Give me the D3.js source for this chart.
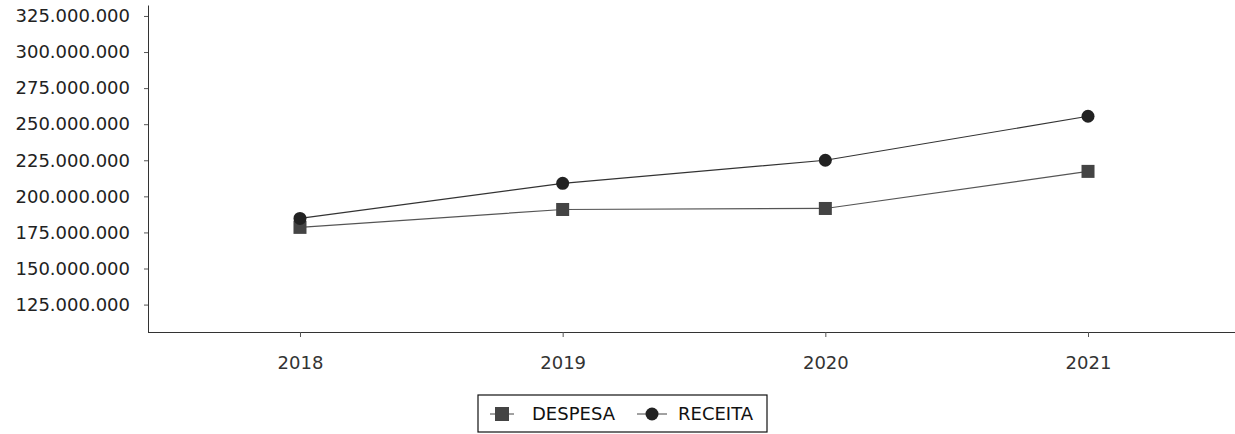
<!DOCTYPE html>
<html>
<head>
<meta charset="utf-8">
<script src="https://cdn.jsdelivr.net/npm/d3@7"></script>
<style>
  body { margin: 0; background: #fff; }
  text { font-family: "DejaVu Sans", sans-serif; }
</style>
</head>
<body>
<div id="chart"></div>
<script>
// chart data
const years = ['2018', '2019', '2020', '2021'];
const despesa = [178500000, 190900000, 191600000, 217300000];
const receita = [184700000, 209000000, 225000000, 255500000];
const yTicks = [125000000, 150000000, 175000000, 200000000, 225000000, 250000000, 275000000, 300000000, 325000000];

const width = 1235;
const height = 434;
const margin = { top: 5, bottom: 102, left: 148 };

const svg = d3
  .select('#chart')
  .append('svg')
  .attr('width', width)
  .attr('height', height);

const x = d3
  .scalePoint()
  .domain(years)
  .range([margin.left, 1240])
  .padding(0.5786);

const y = d3
  .scaleLinear()
  .domain([106000000, 332600000])
  .range([height - margin.bottom, margin.top]);

const fmt = (v) => d3.format(',')(v).replace(/,/g, '.');

// y axis
const yAxis = svg
  .append('g')
  .attr('transform', `translate(${margin.left},0)`)
  .call(d3.axisLeft(y).tickValues(yTicks).tickFormat(fmt).tickSize(4).tickPadding(14).tickSizeOuter(0));
yAxis.selectAll('text').style('font-size', '18px').style('fill', '#222');
yAxis.selectAll('line').style('stroke', '#555');
yAxis.select('.domain').style('stroke', '#333');

// x axis (runs to the right edge)
const xAxis = svg
  .append('g')
  .attr('transform', `translate(0,${height - margin.bottom})`)
  .call(d3.axisBottom(x).tickSize(5).tickPadding(19).tickSizeOuter(0));
xAxis.select('.domain').attr('d', `M${margin.left},0.5H${width}`).style('stroke', '#333');
xAxis.selectAll('text').style('font-size', '18px').style('fill', '#333');
xAxis.selectAll('line').style('stroke', '#555');

const series = [
  { name: 'DESPESA', values: despesa, shape: 'square', color: '#555' },
  { name: 'RECEITA', values: receita, shape: 'circle', color: '#333' },
];

const line = d3
  .line()
  .x((d, i) => x(years[i]))
  .y((d) => y(d));

series.forEach((s) => {
  svg
    .append('path')
    .datum(s.values)
    .attr('fill', 'none')
    .attr('stroke', s.color)
    .attr('stroke-width', 1.2)
    .attr('d', line);

  const g = svg.append('g');
  if (s.shape === 'square') {
    g.selectAll('rect')
      .data(s.values)
      .join('rect')
      .attr('x', (d, i) => x(years[i]) - 6.5)
      .attr('y', (d) => y(d) - 6.5)
      .attr('width', 13)
      .attr('height', 13)
      .attr('fill', '#444');
  } else {
    g.selectAll('circle')
      .data(s.values)
      .join('circle')
      .attr('cx', (d, i) => x(years[i]))
      .attr('cy', (d) => y(d))
      .attr('r', 6.5)
      .attr('fill', '#222');
  }
});

// legend
const legend = svg.append('g').attr('transform', 'translate(478,395)');
legend
  .append('rect')
  .attr('width', 289)
  .attr('height', 37)
  .attr('fill', '#fff')
  .attr('stroke', '#111')
  .attr('stroke-width', 1.2);

const items = [
  { name: 'DESPESA', shape: 'square', x: 24, lx: 12, tx: 54 },
  { name: 'RECEITA', shape: 'circle', x: 174, lx: 15, tx: 200 },
];
items.forEach((it) => {
  legend
    .append('line')
    .attr('x1', it.x - it.lx)
    .attr('x2', it.x + it.lx)
    .attr('y1', 19)
    .attr('y2', 19)
    .attr('stroke', '#444');
  if (it.shape === 'square') {
    legend
      .append('rect')
      .attr('x', it.x - 7)
      .attr('y', 12)
      .attr('width', 14)
      .attr('height', 14)
      .attr('fill', '#444');
  } else {
    legend
      .append('circle')
      .attr('cx', it.x)
      .attr('cy', 19)
      .attr('r', 6.5)
      .attr('fill', '#222');
  }
  legend
    .append('text')
    .attr('x', it.tx)
    .attr('y', 19.5)
    .attr('dominant-baseline', 'middle')
    .style('font-size', '18px')
    .style('fill', '#111')
    .text(it.name);
});
</script>
</body>
</html>
